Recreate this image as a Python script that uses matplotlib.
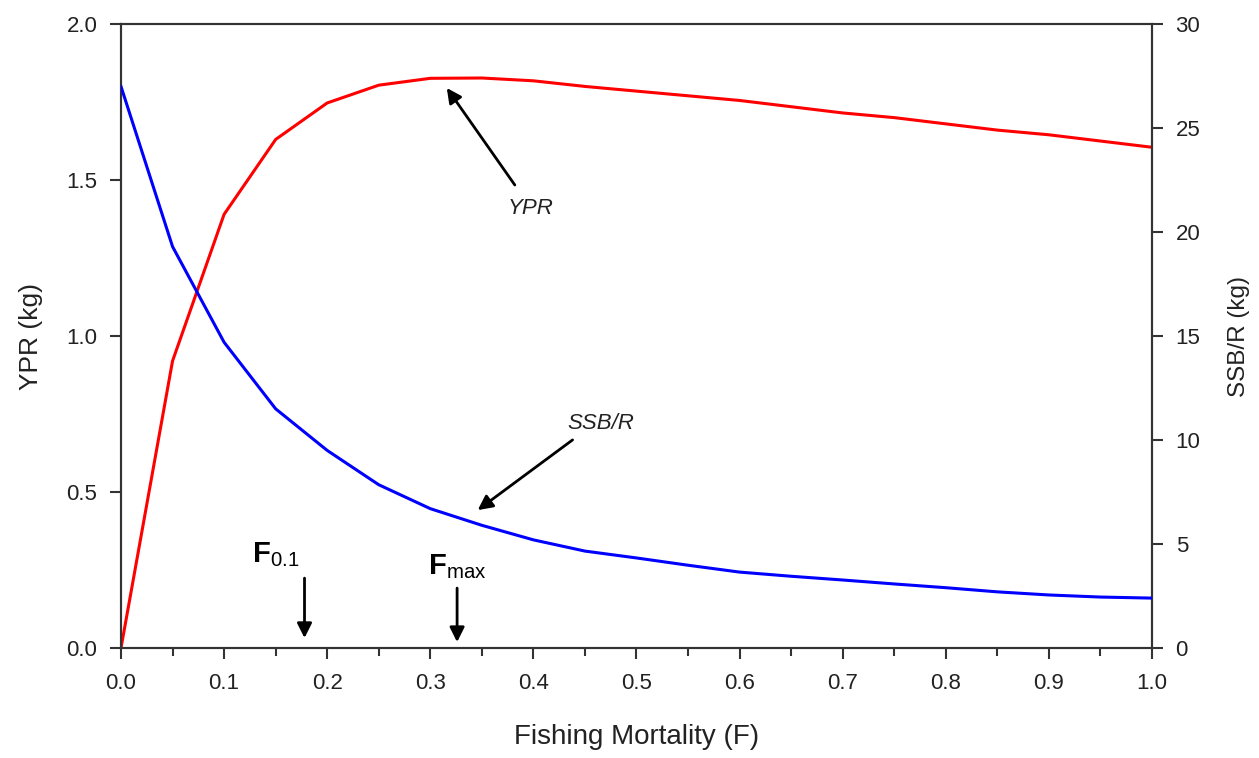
import matplotlib
matplotlib.use("Agg")
import matplotlib.pyplot as plt

F = [0.0, 0.05, 0.1, 0.15, 0.2, 0.25, 0.3, 0.35, 0.4, 0.45, 0.5,
     0.55, 0.6, 0.65, 0.7, 0.75, 0.8, 0.85, 0.9, 0.95, 1.0]
ypr = [0.0, 0.92, 1.39, 1.63, 1.747, 1.804, 1.826, 1.827, 1.818, 1.80, 1.785,
       1.77, 1.755, 1.735, 1.715, 1.70, 1.68, 1.66, 1.645, 1.625, 1.605]
ssbr = [27.0, 19.3, 14.7, 11.5, 9.5, 7.85, 6.7, 5.9, 5.2, 4.66, 4.33,
        3.98, 3.65, 3.45, 3.27, 3.08, 2.9, 2.7, 2.55, 2.45, 2.4]

plt.rcParams['font.family'] = ['Liberation Sans', 'DejaVu Sans']
plt.rcParams['mathtext.fontset'] = 'custom'
plt.rcParams['mathtext.rm'] = 'Liberation Sans'
plt.rcParams['mathtext.bf'] = 'Liberation Sans:bold'
plt.rcParams['mathtext.it'] = 'Liberation Sans:italic'

axc = '#333333'
txtc = '#222222'
fig = plt.figure(figsize=(12.59, 7.58), dpi=100)
ax = fig.add_axes([0.0961, 0.1451, 0.8189, 0.8232])
ax2 = ax.twinx()

ax.plot(F, ypr, color='#ff0000', lw=2.2, zorder=3)
ax2.plot(F, ssbr, color='#0000ff', lw=2.2, zorder=3)

ax.set_xlim(0, 1.0)
ax.set_ylim(0, 2.0)
ax2.set_ylim(0, 30)
ax.set_xticks([i / 10 for i in range(11)])
ax.set_xticklabels([f"{i/10:.1f}" for i in range(11)])
ax.set_xticks([0.05 + i / 10 for i in range(10)], minor=True)
ax.set_yticks([0, 0.5, 1.0, 1.5, 2.0])
ax.set_yticklabels(["0.0", "0.5", "1.0", "1.5", "2.0"])
ax2.set_yticks([0, 5, 10, 15, 20, 25, 30])

for a in (ax, ax2):
    for s in a.spines.values():
        s.set_color(axc)
        s.set_linewidth(1.5)
    a.tick_params(which='major', length=8, width=1.5, color=axc,
                  labelsize=16, labelcolor=txtc, direction='out')
    a.tick_params(which='minor', length=6, width=1.5, color=axc, direction='out')
ax.tick_params(axis='x', which='major', pad=10)
ax.tick_params(axis='y', which='major', pad=9)
ax2.tick_params(axis='y', which='major', pad=9)

ax.set_xlabel('Fishing Mortality (F)', fontsize=20, color=txtc)
ax.xaxis.set_label_coords(0.5, -0.122)
ax.set_ylabel('YPR (kg)', fontsize=19, color=txtc)
ax.yaxis.set_label_coords(-0.0757, 0.5)
ax2.set_ylabel('SSB/R (kg)', fontsize=17.5, color=txtc)
ax2.yaxis.set_label_coords(1.0737, 0.5)

ap = dict(arrowstyle='-|>', lw=2, color='black', mutation_scale=22,
          shrinkA=0, shrinkB=0)
ax.annotate('', xy=(0.316, 1.795), xytext=(0.382, 1.484), arrowprops=ap)
ax.text(0.397, 1.41, 'YPR', fontsize=16, style='italic', color=txtc,
        ha='center', va='center')
ax.annotate('', xy=(0.346, 0.442), xytext=(0.438, 0.667), arrowprops=ap)
ax.text(0.465, 0.721, 'SSB/R', fontsize=16, style='italic', color=txtc,
        ha='center', va='center')
ax.annotate('', xy=(0.178, 0.032), xytext=(0.178, 0.224), arrowprops=ap)
ax.text(0.150, 0.298, r'$\mathbf{F}_{\mathrm{0.1}}$', fontsize=21,
        ha='center', va='center')
ax.annotate('', xy=(0.326, 0.019), xytext=(0.326, 0.192), arrowprops=ap)
ax.text(0.326, 0.26, r'$\mathbf{F}_{\mathrm{max}}$', fontsize=21,
        ha='center', va='center')

fig.savefig('out.png', dpi=100)
